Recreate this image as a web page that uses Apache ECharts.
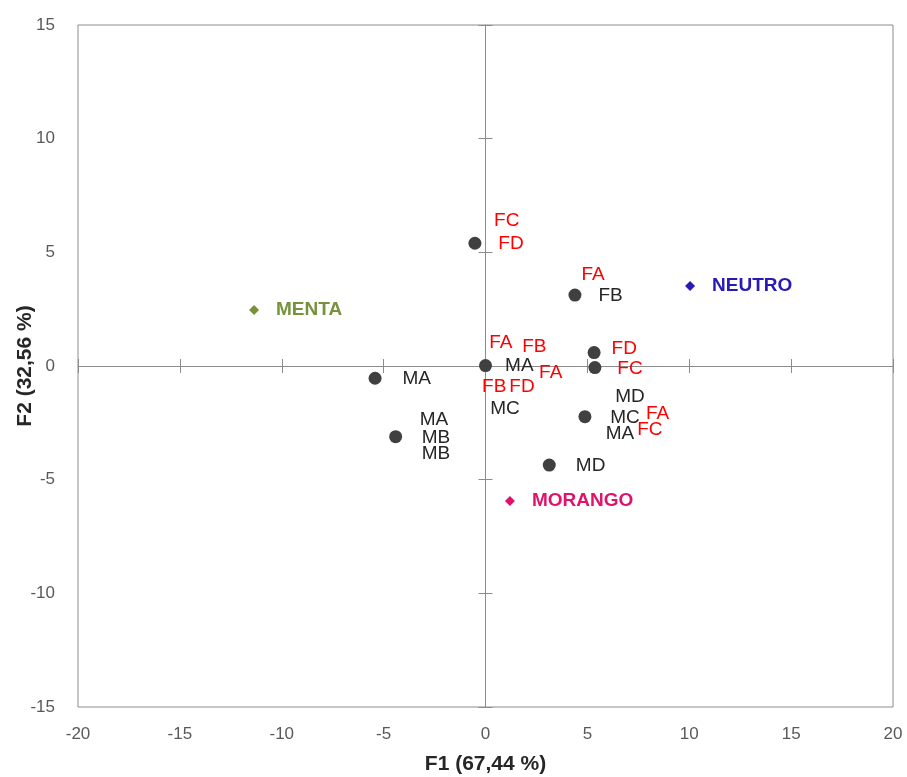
<!DOCTYPE html>
<html><head><meta charset="utf-8">
<script src="https://cdn.jsdelivr.net/npm/echarts@6/dist/echarts.min.js"></script>
<style>html,body{margin:0;padding:0;background:#fff}#c{width:907px;height:777px}</style>
</head><body><div id="c"></div>
<script>
// Observation points (F1, F2)
const pointsX = [-0.52, 4.39, 5.33, 5.37, 0.0, -5.42, -4.41, 4.88, 3.13];
const pointsY = [5.40, 3.12, 0.59, -0.07, 0.02, -0.54, -3.11, -2.23, -4.36];

// Flavour centroids
const groupNames = ['MENTA', 'NEUTRO', 'MORANGO'];
const groupX = [-11.36, 10.04, 1.20];
const groupY = [2.46, 3.52, -5.94];

// Observation labels (text, anchor F1, anchor F2, colour group: 1 = red, 0 = black)
const labelText = ['FC','FD','FA','FB','FA','FB','FD','MA','FC','FA','MA','FB','FD','MD','MC','FA','MA','MC','FC','MA','MB','MB','MD'];
const labelX = [1.04,1.25,5.28,6.14,0.75,2.40,6.81,1.66,7.09,3.20,-3.38,0.43,1.79,7.09,0.96,8.45,-2.53,6.85,8.07,6.60,-2.43,-2.43,5.16];
const labelY = [6.39,5.37,4.00,3.09,1.03,0.85,0.75,0.01,-0.13,-0.29,-0.54,-0.91,-0.91,-1.35,-1.90,-2.08,-2.38,-2.26,-2.82,-2.96,-3.14,-3.87,-4.39];
const labelRed = [1,1,1,0,1,1,1,0,1,1,0,1,1,0,0,1,0,0,1,0,0,0,0];

const xTicks = [-20,-15,-10,-5,0,5,10,15,20];
const yTicks = [-15,-10,-5,0,5,10,15];

const FONT = 'Liberation Sans, Open Sans, sans-serif';
const groupColors = ['#76933C', '#2A1AB5', '#E0126A'];
const axisGray = '#8C8C8C';

const chart = echarts.init(document.getElementById('c'), null, {renderer: 'canvas'});

const baseX = {type: 'value', min: xTicks[0], max: xTicks[xTicks.length-1], interval: 5};
const baseY = {type: 'value', min: yTicks[0], max: yTicks[yTicks.length-1], interval: 5};

const option = {
  animation: false,
  grid: {left: 78, right: 14, top: 25, bottom: 70, containLabel: false, outerBoundsMode: 'none',
    show: true, borderColor: axisGray, borderWidth: 1, backgroundColor: 'transparent'},
  xAxis: [
    Object.assign({}, baseX, {
      position: 'bottom', axisLine: {show: false, onZero: false}, axisTick: {show: false}, splitLine: {show: false},
      axisLabel: {color: '#595959', fontSize: 17, fontFamily: FONT, margin: 19},
      name: 'F1 (67,44 %)', nameLocation: 'middle', nameGap: 47,
      nameTextStyle: {color: '#262626', fontSize: 21, fontWeight: 'bold', fontFamily: FONT}
    }),
    Object.assign({}, baseX, {
      axisLine: {show: true, onZero: true, lineStyle: {color: axisGray, width: 1}},
      axisTick: {show: true, inside: true, length: 7, lineStyle: {color: axisGray}},
      axisLabel: {show: false}, splitLine: {show: false}
    }),
    Object.assign({}, baseX, {
      axisLine: {show: false, onZero: true},
      axisTick: {show: true, inside: false, length: 7, lineStyle: {color: axisGray}},
      axisLabel: {show: false}, splitLine: {show: false}
    })
  ],
  yAxis: [
    Object.assign({}, baseY, {
      position: 'left', axisLine: {show: false, onZero: false}, axisTick: {show: false}, splitLine: {show: false},
      axisLabel: {color: '#595959', fontSize: 17, fontFamily: FONT, margin: 23},
      name: 'F2 (32,56 %)', nameLocation: 'middle', nameGap: 42, nameMoveOverlap: false,
      nameTextStyle: {color: '#262626', fontSize: 21, fontWeight: 'bold', fontFamily: FONT}
    }),
    Object.assign({}, baseY, {
      axisLine: {show: true, onZero: true, lineStyle: {color: axisGray, width: 1}},
      axisTick: {show: true, inside: true, length: 7, lineStyle: {color: axisGray}},
      axisLabel: {show: false}, splitLine: {show: false}
    }),
    Object.assign({}, baseY, {
      axisLine: {show: false, onZero: true},
      axisTick: {show: true, inside: false, length: 7, lineStyle: {color: axisGray}},
      axisLabel: {show: false}, splitLine: {show: false}
    })
  ],
  series: [
    {
      type: 'scatter', symbol: 'circle', symbolSize: 13,
      itemStyle: {color: '#404040', opacity: 1},
      data: pointsX.map((x, i) => [x, pointsY[i]]),
      z: 5
    },
    {
      type: 'scatter', symbol: 'diamond', symbolSize: 10,
      data: groupX.map((x, i) => ({value: [x, groupY[i]], itemStyle: {color: groupColors[i], opacity: 1},
        label: {show: true, position: 'right', distance: 17, formatter: groupNames[i], color: groupColors[i],
          fontSize: 19, fontWeight: 'bold', fontFamily: FONT}})),
      z: 6
    },
    {
      type: 'scatter', symbolSize: 0, silent: true,
      itemStyle: {opacity: 1},
      data: labelText.map((t, i) => ({value: [labelX[i], labelY[i]],
        label: {show: true, position: 'inside', formatter: t, fontSize: 19, fontFamily: FONT,
          color: labelRed[i] ? '#FF0000' : '#262626'}})),
      z: 7
    }
  ]
};
chart.setOption(option);
</script>
</body></html>
